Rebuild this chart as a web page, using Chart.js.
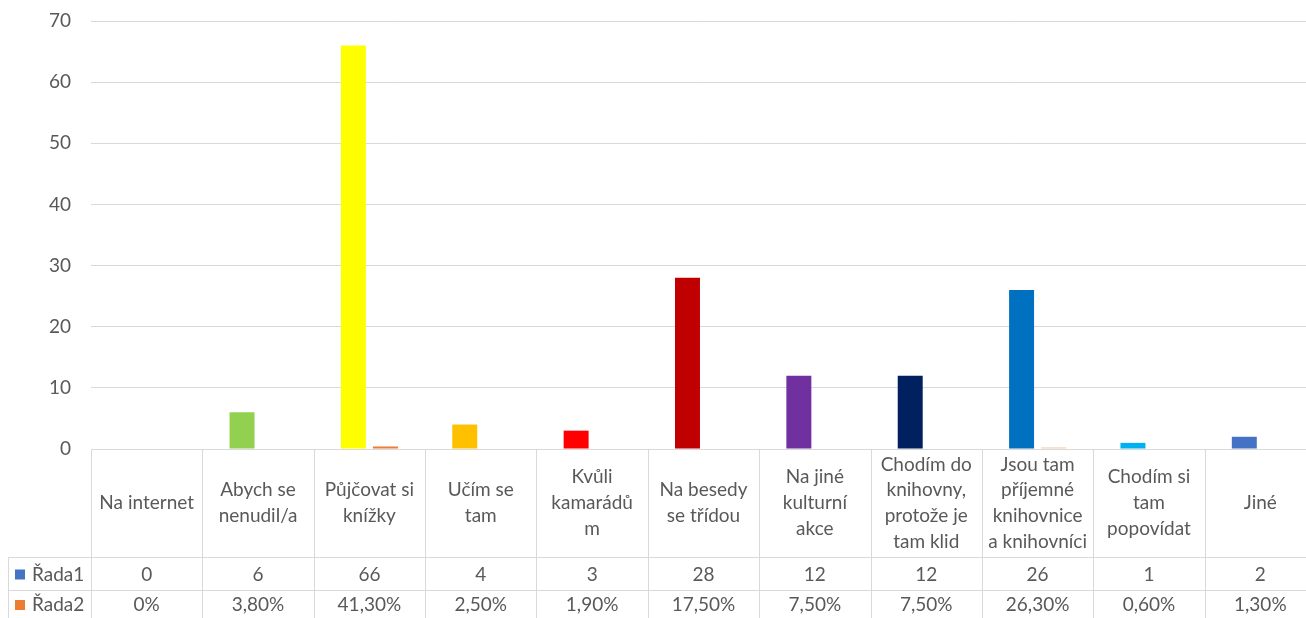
<!DOCTYPE html>
<html>
<head>
<meta charset="utf-8">
<script src="https://cdn.jsdelivr.net/npm/chart.js@4/dist/chart.umd.min.js"></script>
<style>
  html, body { margin: 0; padding: 0; background: #fff; overflow: hidden; }
  #wrap { width: 1316px; height: 618px; }
</style>
</head>
<body>
<div id="wrap"><canvas id="reasonsChart"></canvas></div>
<script>
// ====================== data ======================
const categories = [
  ['Na internet'],
  ['Abych se', 'nenudil/a'],
  ['Půjčovat si', 'knížky'],
  ['Učím se', 'tam'],
  ['Kvůli', 'kamarádů', 'm'],
  ['Na besedy', 'se třídou'],
  ['Na jiné', 'kulturní', 'akce'],
  ['Chodím do', 'knihovny,', 'protože je', 'tam klid'],
  ['Jsou tam', 'příjemné', 'knihovnice', 'a knihovníci'],
  ['Chodím si', 'tam', 'popovídat'],
  ['Jiné']
];
const seriesNames = ['Řada1', 'Řada2'];
const rada1 = [0, 6, 66, 4, 3, 28, 12, 12, 26, 1, 2];
const rada2 = [0, 0.038, 0.413, 0.025, 0.019, 0.175, 0.075, 0.075, 0.263, 0.006, 0.013];
const yTicks = [0, 10, 20, 30, 40, 50, 60, 70];

// ====================== styles ======================
const barColors1 = ['#4472C4', '#92D050', '#FFFF00', '#FFC000', '#FF0000', '#C00000',
                    '#7030A0', '#002060', '#0070C0', '#00B0F0', '#4472C4'];
const barColors2 = ['rgba(0,0,0,0)', 'rgba(0,0,0,0)', '#ED7D31', 'rgba(0,0,0,0)', 'rgba(0,0,0,0)',
                    'rgba(0,0,0,0)', 'rgba(0,0,0,0)', 'rgba(0,0,0,0)', '#F8CBAD', 'rgba(0,0,0,0)', 'rgba(0,0,0,0)'];
const keyColors = ['#4472C4', '#ED7D31'];
const textColor = '#595959';
const lineColor = '#D9D9D9';
const fontFamily = 'Lato, "Liberation Sans", sans-serif';

function fmtPct(v) {
  if (v === 0) return '0%';
  return (v * 100).toFixed(2).replace('.', ',') + '%';
}

//==============================Data table plugin============================
const dataTable = {
  id: 'dataTable',
  afterDraw(chart) {
    const ctx = chart.ctx;
    const area = chart.chartArea;
    const x = chart.scales.x;
    const colW = area.width / categories.length;
    const top = area.bottom;
    const catBottom = top + 108;
    const row1Bottom = catBottom + 33;
    const bottom = chart.height + 2;
    const labelLeft = 8;

    ctx.save();
    ctx.strokeStyle = lineColor;
    ctx.lineWidth = 1;
    ctx.beginPath();
    // horizontal lines
    ctx.moveTo(labelLeft, catBottom + 0.5); ctx.lineTo(area.right, catBottom + 0.5);
    ctx.moveTo(labelLeft, row1Bottom + 0.5); ctx.lineTo(area.right, row1Bottom + 0.5);
    // left border of labels column
    ctx.moveTo(labelLeft + 0.5, catBottom); ctx.lineTo(labelLeft + 0.5, bottom);
    // column borders
    for (let i = 0; i <= categories.length; i++) {
      const lx = Math.round(area.left + i * colW) + 0.5;
      ctx.moveTo(lx, top); ctx.lineTo(lx, bottom);
    }
    ctx.stroke();

    ctx.fillStyle = textColor;
    ctx.font = '19px ' + fontFamily;
    ctx.textAlign = 'center';
    ctx.textBaseline = 'middle';
    const lh = 25.7;
    const catMid = (top + catBottom) / 2;
    categories.forEach((lines, i) => {
      const cx = x.getPixelForValue(i);
      const y0 = catMid - (lines.length - 1) * lh / 2;
      lines.forEach((t, j) => ctx.fillText(t, cx, y0 + j * lh));
      ctx.fillText(String(rada1[i]), cx, (catBottom + row1Bottom) / 2 + 1);
      ctx.fillText(fmtPct(rada2[i]), cx, row1Bottom + 15);
    });

    // series labels with keys
    ctx.textAlign = 'left';
    const rowMids = [(catBottom + row1Bottom) / 2 + 1, row1Bottom + 15];
    seriesNames.forEach((name, k) => {
      ctx.fillStyle = keyColors[k];
      ctx.fillRect(15, rowMids[k] - 5, 10, 10);
      ctx.fillStyle = textColor;
      ctx.fillText(name, 32, rowMids[k]);
    });
    ctx.restore();
  }
};

//=======================================Chart================================
const ctx = document.getElementById('reasonsChart');

new Chart(ctx, {
  type: 'bar',
  data: {
    labels: categories.map(c => c.join(' ')),
    datasets: [
      { label: seriesNames[0], data: rada1, backgroundColor: barColors1 },
      { label: seriesNames[1], data: rada2, backgroundColor: barColors2 }
    ]
  },
  options: {
    responsive: true,
    maintainAspectRatio: false,
    animation: false,
    layout: { padding: { top: 21, bottom: 169, left: 0, right: 0 } },
    datasets: { bar: { categoryPercentage: 0.575, barPercentage: 0.78 } },
    plugins: { legend: { display: false }, tooltip: { enabled: false } },
    scales: {
      x: { display: false },
      y: {
        min: 0,
        max: 70,
        afterFit(scale) { scale.width = 91; scale.paddingTop = 0; scale.paddingBottom = 0; },
        afterBuildTicks(scale) { scale.ticks = yTicks.map(v => ({ value: v })); },
        grid: { color: lineColor, drawTicks: false },
        border: { display: false },
        ticks: { padding: 20, color: textColor, font: { family: fontFamily, size: 19 } }
      }
    }
  },
  plugins: [dataTable]
});
</script>
</body>
</html>
